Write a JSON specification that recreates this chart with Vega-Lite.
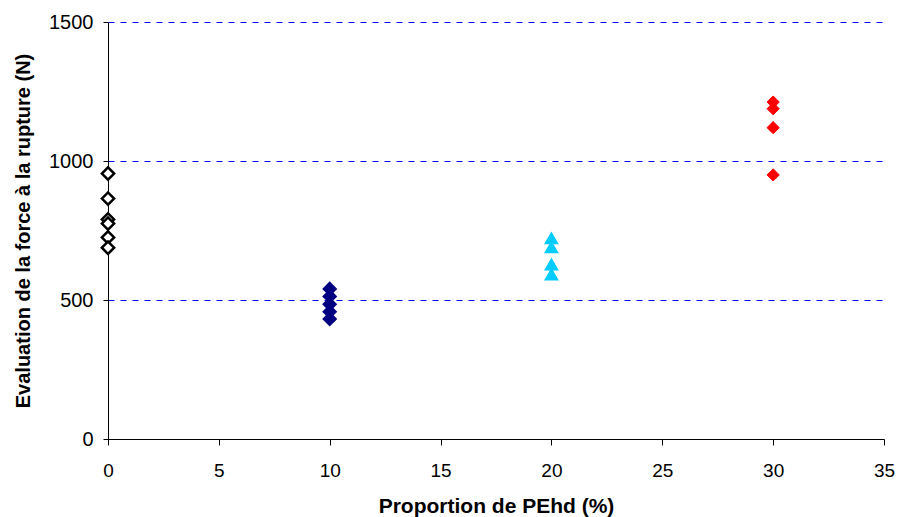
{
  "$schema": "https://vega.github.io/schema/vega-lite/v6.json",
  "width": 776,
  "height": 417,
  "autosize": {"type": "none"},
  "padding": {"left": 108, "top": 22, "right": 13, "bottom": 78},
  "background": "white",
  "config": {"view": {"stroke": null}, "font": "Liberation Sans"},
  "data": {
    "values": [
      {"pehd": 0, "force": 955, "group": "0%"},
      {"pehd": 0, "force": 865, "group": "0%"},
      {"pehd": 0, "force": 790, "group": "0%"},
      {"pehd": 0, "force": 775, "group": "0%"},
      {"pehd": 0, "force": 725, "group": "0%"},
      {"pehd": 0, "force": 688, "group": "0%"},
      {"pehd": 10, "force": 540, "group": "10%"},
      {"pehd": 10, "force": 513, "group": "10%"},
      {"pehd": 10, "force": 485, "group": "10%"},
      {"pehd": 10, "force": 458, "group": "10%"},
      {"pehd": 10, "force": 432, "group": "10%"},
      {"pehd": 20, "force": 722, "group": "20%"},
      {"pehd": 20, "force": 690, "group": "20%"},
      {"pehd": 20, "force": 628, "group": "20%"},
      {"pehd": 20, "force": 592, "group": "20%"},
      {"pehd": 30, "force": 1212, "group": "30%"},
      {"pehd": 30, "force": 1188, "group": "30%"},
      {"pehd": 30, "force": 1120, "group": "30%"},
      {"pehd": 30, "force": 950, "group": "30%"}
    ]
  },
  "mark": {"type": "point", "filled": true, "opacity": 1},
  "encoding": {
    "x": {
      "field": "pehd", "type": "quantitative",
      "scale": {"domain": [0, 35], "nice": false, "zero": false},
      "axis": {
        "values": [0, 5, 10, 15, 20, 25, 30, 35],
        "format": "d",
        "title": "Proportion de PEhd (%)",
        "grid": false,
        "domainColor": "black", "tickColor": "black", "tickSize": 6,
        "labelFontSize": 19, "labelPadding": 16, "labelColor": "black", "labelFlush": false,
        "titleFontSize": 21, "titleFontWeight": "bold", "titleColor": "black", "titlePadding": 15
      }
    },
    "y": {
      "field": "force", "type": "quantitative",
      "scale": {"domain": [0, 1500], "nice": false},
      "axis": {
        "values": [0, 500, 1000, 1500],
        "format": "d",
        "title": "Evaluation de la force à la rupture (N)",
        "grid": true, "gridColor": "#0000FF", "gridDash": [6, 6], "gridWidth": 1,
        "domainColor": "black", "tickColor": "black", "tickSize": 5,
        "labelFontSize": 20, "labelPadding": 10, "labelColor": "black",
        "titleFontSize": 20, "titleFontWeight": "bold", "titleColor": "black", "titlePadding": 15
      }
    },
    "shape": {
      "field": "group", "type": "nominal",
      "scale": {"domain": ["0%", "10%", "20%", "30%"], "range": ["diamond", "diamond", "triangle-up", "diamond"]},
      "legend": null
    },
    "size": {
      "field": "group", "type": "nominal",
      "scale": {"domain": ["0%", "10%", "20%", "30%"], "range": [150, 150, 200, 210]},
      "legend": null
    },
    "strokeWidth": {
      "field": "group", "type": "nominal",
      "scale": {"domain": ["0%", "10%", "20%", "30%"], "range": [2.5, 1, 1, 1]},
      "legend": null
    },
    "fill": {
      "field": "group", "type": "nominal",
      "scale": {"domain": ["0%", "10%", "20%", "30%"], "range": ["white", "#000080", "#00CCFF", "#FF0000"]},
      "legend": null
    },
    "stroke": {
      "field": "group", "type": "nominal",
      "scale": {"domain": ["0%", "10%", "20%", "30%"], "range": ["black", "#000080", "#00CCFF", "#FF0000"]},
      "legend": null
    }
  }
}
